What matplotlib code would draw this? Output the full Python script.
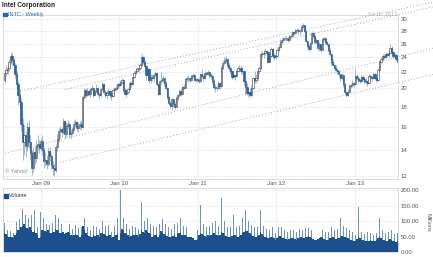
"""INTC weekly candlesticks with volume, Yahoo-style small chart. Writes out.png."""
import matplotlib
matplotlib.use("Agg")
import matplotlib.pyplot as plt
import matplotlib.ticker as mticker
import pandas as pd

plt.rcParams["font.family"] = ["Liberation Sans", "DejaVu Sans"]

FIRST_WEEK = "2008-07-14"
N_WEEKS = 262

opens = [
    21.0, 21.9, 22.3, 22.5, 23.4, 24.2, 23.6, 22.9, 21.8, 20.5, 19.2, 18.5, 16.3,
    14.6, 15.2, 14.3, 16.0, 14.6, 13.7, 12.6, 13.8, 13.3, 14.3, 14.5, 14.1, 14.7,
    14.0, 13.1, 13.2, 12.9, 13.9, 13.5, 12.8, 12.6, 12.4, 14.2, 14.9, 15.6, 15.8,
    15.5, 16.5, 15.3, 16.1, 16.3, 15.3, 15.4, 15.8, 16.3, 16.4, 15.9, 16.1, 16.3,
    16.0, 19.0, 19.8, 19.3, 19.7, 19.4, 19.9, 20.1, 19.3, 19.7, 20.1, 19.4, 19.2,
    19.9, 20.5, 19.6, 19.2, 19.5, 19.7, 19.2, 19.1, 19.8, 19.9, 20.1, 20.5, 20.4,
    20.8, 21.0, 19.8, 19.4, 19.6, 19.9, 20.7, 20.5, 21.4, 21.9, 22.2, 22.4, 22.5,
    22.9, 24.0, 23.4, 22.8, 21.6, 22.4, 21.0, 21.4, 21.2, 21.6, 21.9, 20.5, 19.4,
    20.9, 21.0, 21.2, 20.6, 20.1, 19.0, 18.4, 18.1, 18.8, 18.3, 18.0, 18.9, 19.2,
    19.7, 19.4, 20.2, 20.1, 21.1, 21.2, 21.3, 21.0, 21.5, 21.6, 21.0, 21.1, 21.0,
    20.9, 21.7, 21.5, 21.2, 21.9, 21.8, 22.0, 21.6, 21.5, 20.9, 20.2, 20.1, 20.0,
    20.6, 20.3, 22.6, 23.2, 23.5, 23.8, 23.0, 22.6, 22.1, 21.4, 21.6, 21.5, 22.2,
    22.5, 22.6, 22.1, 22.2, 20.9, 20.2, 19.5, 19.6, 19.3, 20.1, 21.2, 21.0, 21.3,
    22.1, 22.5, 24.4, 24.5, 24.6, 24.9, 24.8, 23.4, 24.2, 25.2, 24.3, 24.0, 24.2,
    25.1, 25.5, 26.3, 26.5, 26.8, 26.9, 26.8, 26.6, 27.1, 27.2, 27.8, 27.7, 28.1,
    28.2, 28.0, 27.9, 28.6, 28.9, 28.0, 26.4, 25.6, 25.2, 26.1, 27.6, 27.2, 26.3,
    26.5, 25.3, 25.9, 25.1, 26.7, 26.8, 26.2, 25.9, 25.0, 24.5, 23.4, 23.0, 22.6,
    22.3, 22.1, 21.7, 21.3, 21.6, 20.5, 19.6, 19.3, 19.6, 20.3, 20.4, 20.6, 20.5,
    21.5, 21.2, 21.0, 20.9, 21.4, 21.1, 20.9, 20.8, 20.6, 21.5, 21.4, 21.2, 21.8,
    21.3, 21.0, 22.3, 23.4, 23.7, 24.2, 24.1, 24.4, 24.3, 24.6, 25.4, 24.7, 24.2,
    24.3, 23.8,
]
closes = [
    21.9, 22.3, 22.5, 23.4, 24.2, 23.6, 22.9, 21.8, 20.5, 19.2, 18.5, 16.3, 14.6,
    15.2, 14.3, 16.0, 14.6, 13.7, 12.6, 13.8, 13.3, 14.3, 14.5, 14.1, 14.7, 14.0,
    13.1, 13.2, 12.9, 13.9, 13.5, 12.8, 12.6, 12.4, 14.2, 14.9, 15.6, 15.8, 15.5,
    16.5, 15.3, 16.1, 16.3, 15.3, 15.4, 15.8, 16.3, 16.4, 15.9, 16.1, 16.3, 16.0,
    19.0, 19.8, 19.3, 19.7, 19.4, 19.9, 20.1, 19.3, 19.7, 20.1, 19.4, 19.2, 19.9,
    20.5, 19.6, 19.2, 19.5, 19.7, 19.2, 19.1, 19.8, 19.9, 20.1, 20.5, 20.4, 20.8,
    21.0, 19.8, 19.4, 19.6, 19.9, 20.7, 20.5, 21.4, 21.9, 22.2, 22.4, 22.5, 22.9,
    24.0, 23.4, 22.8, 21.6, 22.4, 21.0, 21.4, 21.2, 21.6, 21.9, 20.5, 19.4, 20.9,
    21.0, 21.2, 20.6, 20.1, 19.0, 18.4, 18.1, 18.8, 18.3, 18.0, 18.9, 19.2, 19.7,
    19.4, 20.2, 20.1, 21.1, 21.2, 21.3, 21.0, 21.5, 21.6, 21.0, 21.1, 21.0, 20.9,
    21.7, 21.5, 21.2, 21.9, 21.8, 22.0, 21.6, 21.5, 20.9, 20.2, 20.1, 20.0, 20.6,
    20.3, 22.6, 23.2, 23.5, 23.8, 23.0, 22.6, 22.1, 21.4, 21.6, 21.5, 22.2, 22.5,
    22.6, 22.1, 22.2, 20.9, 20.2, 19.5, 19.6, 19.3, 20.1, 21.2, 21.0, 21.3, 22.1,
    22.5, 24.4, 24.5, 24.6, 24.9, 24.8, 23.4, 24.2, 25.2, 24.3, 24.0, 24.2, 25.1,
    25.5, 26.3, 26.5, 26.8, 26.9, 26.8, 26.6, 27.1, 27.2, 27.8, 27.7, 28.1, 28.2,
    28.0, 27.9, 28.6, 28.9, 28.0, 26.4, 25.6, 25.2, 26.1, 27.6, 27.2, 26.3, 26.5,
    25.3, 25.9, 25.1, 26.7, 26.8, 26.2, 25.9, 25.0, 24.5, 23.4, 23.0, 22.6, 22.3,
    22.1, 21.7, 21.3, 21.6, 20.5, 19.6, 19.3, 19.6, 20.3, 20.4, 20.6, 20.5, 21.5,
    21.2, 21.0, 20.9, 21.4, 21.1, 20.9, 20.8, 20.6, 21.5, 21.4, 21.2, 21.8, 21.3,
    21.0, 22.3, 23.4, 23.7, 24.2, 24.1, 24.4, 24.3, 24.6, 25.4, 24.7, 24.2, 24.3,
    23.8, 23.3,
]
highs = [
    22.4, 22.9, 23.1, 23.8, 24.7, 24.6, 23.9, 23.2, 22.2, 20.9, 19.9, 18.9, 16.8,
    16.2, 15.6, 16.4, 16.6, 15.2, 14.0, 14.2, 14.3, 14.8, 15.2, 14.8, 15.0, 15.2,
    14.2, 13.8, 13.6, 14.2, 14.2, 13.7, 13.1, 12.9, 14.5, 15.3, 15.9, 16.1, 16.0,
    16.8, 16.6, 16.4, 16.6, 16.4, 15.8, 16.0, 16.6, 16.7, 16.5, 16.4, 16.5, 16.6,
    19.2, 20.0, 20.0, 20.0, 19.9, 20.1, 20.4, 20.2, 19.9, 20.5, 20.2, 19.6, 20.1,
    20.8, 20.6, 19.8, 19.8, 20.0, 19.8, 19.5, 20.1, 20.2, 20.4, 20.7, 20.8, 21.0,
    21.3, 21.1, 20.1, 19.9, 20.1, 20.9, 20.9, 21.6, 22.1, 22.5, 22.7, 22.8, 23.2,
    24.4, 24.2, 23.6, 23.0, 22.6, 22.5, 21.7, 21.8, 21.9, 22.2, 22.0, 20.7, 21.0,
    22.0, 21.6, 21.3, 20.9, 20.2, 19.1, 18.6, 18.9, 18.9, 18.5, 19.1, 19.4, 19.9,
    20.0, 20.4, 20.5, 21.3, 21.5, 21.6, 21.4, 21.7, 21.9, 21.7, 21.3, 21.2, 21.4,
    21.9, 22.4, 21.7, 22.1, 22.2, 22.3, 22.1, 21.9, 21.7, 21.1, 20.5, 20.4, 20.9,
    20.8, 22.9, 23.6, 24.0, 24.2, 23.9, 23.2, 22.8, 22.2, 21.9, 21.8, 22.4, 22.8,
    22.9, 22.9, 22.6, 22.3, 21.1, 20.6, 20.1, 20.0, 20.4, 21.4, 22.1, 21.8, 22.4,
    22.8, 24.8, 25.0, 25.0, 25.3, 25.1, 24.9, 24.6, 25.5, 25.4, 24.6, 24.4, 25.4,
    25.9, 26.7, 26.9, 27.0, 27.2, 27.1, 27.0, 27.3, 27.5, 28.0, 28.0, 28.3, 28.5,
    28.4, 28.3, 28.9, 29.3, 29.0, 28.1, 26.6, 25.9, 26.3, 27.8, 27.9, 27.3, 26.9,
    26.6, 26.2, 26.0, 26.9, 27.0, 26.9, 26.4, 26.0, 25.3, 24.6, 23.7, 23.2, 22.9,
    22.5, 22.2, 21.8, 21.9, 21.7, 20.6, 19.7, 19.9, 20.5, 20.7, 21.0, 20.8, 22.4,
    21.8, 21.5, 21.2, 21.6, 21.6, 21.3, 21.2, 21.0, 21.7, 21.8, 21.6, 22.0, 21.9,
    21.5, 22.5, 23.6, 24.0, 24.5, 24.5, 24.7, 24.6, 25.0, 25.9, 25.6, 24.9, 24.6,
    24.5, 24.0,
]
lows = [
    20.6, 21.5, 21.8, 22.2, 23.1, 23.0, 22.3, 21.3, 20.0, 18.2, 17.8, 15.6, 13.2,
    13.6, 13.4, 13.9, 14.1, 13.2, 12.1, 12.3, 12.9, 13.0, 14.0, 13.7, 13.9, 13.6,
    12.6, 12.7, 12.5, 12.7, 13.1, 12.5, 12.1, 12.0, 12.3, 13.9, 14.6, 15.0, 15.1,
    15.3, 15.0, 15.1, 15.8, 15.0, 15.0, 15.2, 15.6, 16.0, 15.6, 15.5, 15.8, 15.7,
    15.9, 18.8, 19.0, 19.1, 19.1, 19.0, 19.7, 19.0, 19.2, 19.5, 19.1, 18.8, 19.0,
    19.7, 19.4, 18.9, 18.8, 19.3, 18.9, 18.7, 19.0, 19.5, 19.7, 20.0, 20.2, 20.3,
    20.5, 19.6, 19.2, 19.0, 19.4, 19.8, 20.2, 20.4, 21.2, 21.7, 22.0, 22.1, 22.3,
    22.8, 23.1, 22.5, 21.0, 21.3, 20.6, 20.7, 20.9, 20.8, 21.4, 20.3, 19.2, 19.3,
    20.5, 20.6, 20.3, 19.8, 18.8, 18.1, 17.8, 17.6, 18.0, 17.7, 17.9, 18.7, 19.0,
    19.1, 19.3, 19.9, 20.0, 20.9, 20.8, 20.8, 20.9, 21.3, 20.9, 20.8, 20.8, 20.6,
    20.8, 21.2, 20.9, 21.1, 21.5, 21.6, 21.3, 21.1, 20.5, 19.9, 19.6, 19.7, 19.9,
    19.9, 20.2, 22.4, 23.0, 23.2, 22.7, 22.2, 21.8, 21.1, 21.2, 21.0, 21.4, 22.0,
    22.2, 21.8, 21.8, 20.4, 19.2, 19.2, 19.0, 19.0, 19.1, 19.9, 20.7, 20.6, 20.9,
    21.8, 22.4, 24.0, 23.9, 24.3, 24.3, 23.2, 23.3, 24.0, 23.9, 23.6, 23.8, 24.1,
    24.9, 25.3, 26.0, 26.2, 26.5, 26.4, 26.3, 26.4, 26.8, 27.0, 27.4, 27.5, 27.8,
    27.5, 27.3, 27.8, 28.4, 27.8, 26.2, 25.3, 24.9, 25.0, 26.0, 26.9, 26.0, 26.0,
    25.0, 24.9, 24.8, 25.0, 26.4, 26.0, 25.6, 24.7, 24.2, 23.0, 22.8, 22.4, 22.0,
    21.8, 21.4, 20.9, 21.0, 20.2, 19.3, 19.0, 19.1, 19.5, 20.0, 20.2, 20.2, 20.4,
    21.0, 20.7, 20.6, 20.8, 20.9, 20.7, 20.5, 20.3, 20.5, 21.1, 20.9, 21.1, 21.0,
    20.8, 20.9, 22.1, 23.2, 23.5, 23.8, 23.9, 24.0, 24.1, 24.5, 24.4, 23.9, 23.9,
    23.5, 22.9,
]
# volume in millions: typical daily level and the busiest day of each week
vol_base = [
    62, 58, 52, 50, 48, 47, 45, 55, 60, 70, 72, 80, 85,
    90, 80, 78, 75, 80, 70, 65, 68, 62, 55, 45, 50,
    70, 72, 68, 65, 70, 62, 60, 64, 66, 75, 70, 68,
    62, 60, 65, 58, 62, 64, 60, 55, 52, 56, 58, 55, 52, 50, 54,
    85, 70, 62, 55, 52, 50, 48, 55, 52, 54, 56, 50, 60,
    62, 58, 55, 52, 56, 54, 45, 50, 52, 55, 58, 40,
    62, 75, 68, 60, 58, 55, 50, 52, 55, 54, 56, 55, 50, 58,
    70, 66, 60, 72, 65, 60, 58, 50, 52, 56, 54, 50, 55,
    68, 62, 58, 55, 52, 50, 48, 50, 52, 55, 50, 58, 62,
    60, 55, 54, 56, 52, 50, 48, 50, 45, 40, 38, 42, 55,
    62, 58, 55, 52, 50, 54, 52, 55, 58, 60, 56, 54, 52, 55,
    65, 60, 56, 52, 50, 48, 50, 52, 55, 54, 50, 48, 52,
    55, 60, 65, 70, 68, 62, 60, 55, 52, 50, 48, 52, 56,
    65, 58, 52, 50, 48, 46, 44, 48, 50, 45, 38, 45, 50,
    52, 48, 45, 44, 42, 40, 42, 44, 46, 45, 42, 40, 44,
    46, 48, 45, 44, 48, 50, 52, 48, 46, 42, 40, 38, 42,
    44, 48, 45, 42, 40, 38, 40, 44, 46, 48, 45, 42, 44,
    46, 50, 52, 48, 50, 46, 44, 42, 40, 38, 36, 34, 42,
    50, 44, 40, 38, 36, 35, 34, 36, 38, 35, 34, 36, 38,
    45, 48, 44, 40, 38, 36, 35, 38, 42, 40, 36, 34, 32, 35,
]
vol_peak = [
    95, 85, 70, 110, 68, 64, 62, 80, 97, 100, 105, 115, 140,
    168, 120, 129, 110, 142, 120, 100, 135, 95, 80, 75, 129,
    100, 110, 95, 90, 103, 88, 103, 95, 100, 120, 115, 110,
    95, 90, 152, 85, 100, 110, 90, 80, 75, 85, 88, 80, 78, 72, 80,
    184, 110, 90, 80, 75, 72, 70, 85, 78, 80, 90, 75, 168,
    100, 90, 85, 80, 88, 75, 65, 80, 84, 97, 110, 60,
    200, 113, 110, 95, 90, 80, 75, 78, 85, 119, 80, 78, 75, 90,
    161, 110, 100, 158, 110, 105, 90, 80, 85, 88, 80, 75, 90,
    200, 105, 129, 90, 85, 80, 110, 75, 80, 90, 78, 95, 174,
    110, 90, 85, 88, 80, 78, 110, 80, 70, 65, 60, 70, 95,
    152, 100, 90, 85, 80, 88, 85, 90, 95, 77, 100, 90, 85, 90,
    174, 152, 100, 85, 80, 75, 80, 90, 119, 90, 80, 75, 85,
    100, 110, 120, 135, 110, 100, 95, 87, 85, 80, 75, 82, 90,
    135, 95, 85, 80, 75, 70, 72, 87, 80, 75, 60, 72, 80,
    97, 80, 75, 70, 68, 66, 72, 70, 75, 72, 68, 65, 77,
    75, 80, 72, 70, 78, 80, 77, 75, 72, 68, 65, 62, 70,
    70, 77, 72, 68, 65, 62, 66, 110, 80, 78, 72, 70, 75,
    80, 110, 90, 85, 82, 78, 72, 70, 68, 65, 60, 55, 72,
    145, 72, 65, 62, 58, 55, 65, 60, 62, 58, 56, 60, 62,
    80, 110, 75, 70, 65, 60, 58, 65, 77, 70, 62, 58, 55, 60,
]
# dotted channel lines: (start date, start price, end date, end price)
trend_lines = [
    ("2008-10-19", 19.8, "2013-12-28", 33.1),
    ("2009-04-23", 19.9, "2013-12-28", 32.2),
    ("2008-07-18", 13.7, "2013-12-28", 25.3),
    ("2009-03-31", 13.0, "2013-12-28", 21.7),
]
price_ticks = [12, 14, 16, 18, 20, 22, 24, 26, 28, 30]
vol_ticks = [0, 50, 100, 150, 200]
year_starts = ["2009-01-01", "2010-01-01", "2011-01-01", "2012-01-01", "2013-01-01"]
year_labels = ["Jan 09", "Jan 10", "Jan 11", "Jan 12", "Jan 13"]

DOWN = "#2566ad"
UP_EDGE = "#333333"
WICK = "#7f9cc4"
GRID = "#c9d6e8"
FRAME = "#d4d4d4"
TXT = "#555555"

W, H = 433, 257
weeks = pd.date_range(FIRST_WEEK, periods=N_WEEKS, freq="7D") + pd.Timedelta(days=2)
x0 = pd.Timestamp("2008-07-09")
x1 = pd.Timestamp("2013-07-19")

fig = plt.figure(figsize=(W / 100, H / 100), dpi=100)
ax = fig.add_axes([3 / W, 1 - 179 / H, 395 / W, 164 / H])
axv = fig.add_axes([3 / W, 1 - 252 / H, 395 / W, 64 / H])

for a in (ax, axv):
    a.set_xlim(x0, x1)
    for s in a.spines.values():
        s.set_color(FRAME)
        s.set_linewidth(0.6)
    a.set_xticks(pd.to_datetime(year_starts))
    a.grid(True, color=GRID, lw=0.5, ls=(0, (1, 1.5)))
    a.set_axisbelow(True)
    a.yaxis.tick_right()
    a.tick_params(length=0, labelsize=4.3, colors=TXT, pad=2)

# price panel
ax.set_yscale("log")
ax.set_ylim(11.79, 30.71)
ax.yaxis.set_major_locator(mticker.FixedLocator(price_ticks))
ax.yaxis.set_minor_locator(mticker.NullLocator())
ax.yaxis.set_major_formatter(mticker.FuncFormatter(lambda v, _: f"{v:.0f}"))
ax.set_xticklabels(year_labels)
ax.tick_params(axis="x", pad=1.5)

for d0, p0, d1, p1 in trend_lines:
    ax.plot(pd.to_datetime([d0, d1]), [p0, p1], color="#7a7a7a", lw=0.55,
            ls=(0, (1, 3)), clip_on=False, zorder=1)

ax.vlines(weeks, lows, highs, color=WICK, lw=0.5, zorder=2)
up = [c >= o for o, c in zip(opens, closes)]
for flag, face, edge in ((True, "white", UP_EDGE), (False, DOWN, "#1d4f86")):
    xs = [d for d, u in zip(weeks, up) if u == flag]
    bot = [min(o, c) for o, c, u in zip(opens, closes, up) if u == flag]
    hgt = [max(abs(c - o), 0.05) for o, c, u in zip(opens, closes, up) if u == flag]
    ax.bar(xs, hgt, bottom=bot, width=5.5, color=face, edgecolor=edge, lw=0.4, zorder=3)

# volume panel
axv.set_ylim(0, 206.5)
axv.set_yticks(vol_ticks)
axv.yaxis.set_major_formatter(mticker.FuncFormatter(lambda v, _: f"{v:.2f}"))
axv.set_xticklabels([])
axv.bar(weeks, vol_peak, width=2.2, color="#6d93c2", lw=0, zorder=2)
axv.bar(weeks, vol_base, width=7.0, color="#1d4f8c", lw=0, zorder=3)

# texts
fig.text(2 / W, 1 - 5.5 / H, "Intel Corporation", fontsize=4.7, fontweight="bold",
         color="#222222", va="center", ha="left")
fig.patches.append(plt.Rectangle((3 / W, 1 - 16 / H), 3.5 / W, 3.5 / H, color=DOWN,
                                 transform=fig.transFigure, figure=fig))
fig.text(8 / W, 1 - 14.3 / H, "INTC - Weekly", fontsize=4, color="#2f68b0",
         va="center", ha="left")
fig.text(397 / W, 1 - 14 / H, "Jul 16, 2013", fontsize=4, color="#b0b0b0",
         va="center", ha="right")
fig.text(5 / W, 1 - 171.5 / H, "\u00a9 Yahoo!", fontsize=4, color="#8a8a8a",
         va="center", ha="left")
fig.patches.append(plt.Rectangle((4 / W, 1 - 197.5 / H), 3.5 / W, 3.5 / H, color="#1d4f8c",
                                 transform=fig.transFigure, figure=fig))
fig.text(9 / W, 1 - 195.7 / H, "Volume", fontsize=4, color="#333333",
         va="center", ha="left")
fig.text(428 / W, 1 - 222 / H, "Millions", fontsize=4, color=TXT, rotation=270,
         va="center", ha="center")

fig.savefig("out.png", dpi=100, facecolor="white")
